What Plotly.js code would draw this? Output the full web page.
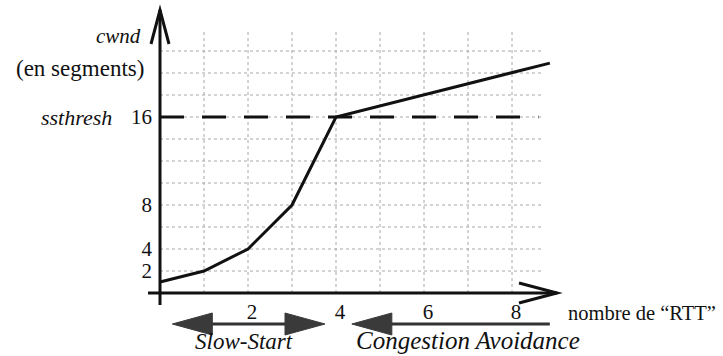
<!DOCTYPE html>
<html>
<head>
<meta charset="utf-8">
<script src="https://cdn.plot.ly/plotly-3.0.1.min.js"></script>
<style>html,body{margin:0;padding:0;background:#fff;}#chart{width:723px;height:356px;}</style>
</head>
<body>
<div id="chart"></div>
<script>
// ---- data ----
const rtt  = [0, 1, 2, 3, 4, 5, 6, 7, 8, 8.86];
const cwnd = [1, 2, 4, 8, 16, 17, 18, 19, 20, 20.9];
const ssthresh = 16;
const ssthreshEnd = 8.6;
const xTickVals = [2, 4, 6, 8];
const xTickText = ['2', '4', '6', '8'];
const yTickVals = [2, 4, 8, 16];
const yTickText = ['2', '4', '8', '16'];
const gridX = [1, 2, 3, 4, 5, 6, 7, 8];
const gridY = [2, 4, 6, 8, 10, 12, 14, 16, 18, 20, 22];
const phaseNames = ['Slow-Start', 'Congestion Avoidance'];
const phaseFrom = [0.28, 4.36];
const phaseTo = [3.75, 8.86];
const phaseHeads = [['left', 'right'], ['left']];

// ---- geometry (pixels per unit) ----
const W = 723, H = 356;
const x0px = 160, xUnit = 44;   // x=0 at 160px, 44px per RTT
const y0px = 293, yUnit = 11;   // y=0 at 293px, 11px per segment
const xRange = [-x0px / xUnit, (W - x0px) / xUnit];
const yRange = [-(H - y0px) / yUnit, y0px / yUnit];
const px2x = p => p / xUnit;    // pixel length -> x units
const px2y = p => p / yUnit;

const gridTopY = px2y(y0px - 30);
const gridRightX = px2x(543 - x0px);
const font = 'Liberation Serif';

const traces = [];
// grid
const gx = [], gy = [];
gridX.forEach(v => { gx.push(v, v, null); gy.push(0, gridTopY, null); });
gridY.forEach(v => { gx.push(0, gridRightX, null); gy.push(v, v, null); });
traces.push({x: gx, y: gy, mode: 'lines', line: {color: '#a8a8a8', width: 1, dash: 'dot'}, hoverinfo: 'skip'});
// ssthresh dashed line
traces.push({x: [0, ssthreshEnd], y: [ssthresh, ssthresh], mode: 'lines',
  line: {color: '#111', width: 3, dash: '24px,18px'}, hoverinfo: 'skip'});
// cwnd curve
traces.push({x: rtt, y: cwnd, mode: 'lines', line: {color: '#111', width: 3}, hoverinfo: 'skip'});

const shapes = [];
// axes lines
const yAxisTop = px2y(y0px - 10);
const xAxisEnd = px2x(557 - x0px);
shapes.push({type: 'line', xref: 'x', yref: 'y', x0: 0, x1: 0, y0: -px2y(12), y1: yAxisTop, line: {color: '#111', width: 3}});
shapes.push({type: 'line', xref: 'x', yref: 'y', x0: -px2x(12), x1: xAxisEnd, y0: 0, y1: 0, line: {color: '#111', width: 3}});
// open arrowheads on axes
shapes.push({type: 'path', xref: 'x', yref: 'y',
  path: `M ${-px2x(9)} ${yAxisTop - px2y(34)} L 0 ${yAxisTop} L ${px2x(9)} ${yAxisTop - px2y(34)}`,
  line: {color: '#111', width: 3}});
shapes.push({type: 'path', xref: 'x', yref: 'y',
  path: `M ${xAxisEnd - px2x(38)} ${px2y(10)} L ${xAxisEnd} 0 L ${xAxisEnd - px2x(38)} ${-px2y(10)}`,
  line: {color: '#111', width: 3}});

// phase arrows
const arrowY = -px2y(324 - y0px);
const headL = px2x(40), headH = px2y(11);
phaseNames.forEach((n, i) => {
  const a = phaseFrom[i], b = phaseTo[i];
  shapes.push({type: 'line', xref: 'x', yref: 'y', x0: a + headL * 0.5, x1: b - (phaseHeads[i].includes('right') ? headL * 0.5 : 0),
    y0: arrowY, y1: arrowY, line: {color: '#333', width: 3}});
  if (phaseHeads[i].includes('left')) {
    shapes.push({type: 'path', xref: 'x', yref: 'y',
      path: `M ${a} ${arrowY} L ${a + headL} ${arrowY + headH} L ${a + headL} ${arrowY - headH} Z`,
      fillcolor: '#3a3a3a', line: {color: '#3a3a3a', width: 1}});
  }
  if (phaseHeads[i].includes('right')) {
    shapes.push({type: 'path', xref: 'x', yref: 'y',
      path: `M ${b} ${arrowY} L ${b - headL} ${arrowY + headH} L ${b - headL} ${arrowY - headH} Z`,
      fillcolor: '#3a3a3a', line: {color: '#3a3a3a', width: 1}});
  }
});

const annotations = [
  {x: -px2x(17), y: px2y(y0px - 36), xref: 'x', yref: 'y', text: '<i>cwnd</i>', showarrow: false, xanchor: 'right',
   font: {family: font, size: 21, color: '#111'}},
  {x: -px2x(14), y: px2y(y0px - 68), xref: 'x', yref: 'y', text: '(en segments)', showarrow: false, xanchor: 'right',
   font: {family: font, size: 23, color: '#111'}},
  {x: -px2x(46), y: ssthresh, xref: 'x', yref: 'y', text: '<i>ssthresh</i>', showarrow: false, xanchor: 'right',
   font: {family: font, size: 22, color: '#111'}},
  {x: px2x(566 - x0px), y: -px2y(313 - y0px), xref: 'x', yref: 'y', text: 'nombre de “RTT”', showarrow: false, xanchor: 'left',
   font: {family: font, size: 20.5, color: '#111'}},
  {x: px2x(244 - x0px), y: -px2y(341 - y0px), xref: 'x', yref: 'y', text: '<i>' + phaseNames[0] + '</i>', showarrow: false, xanchor: 'center',
   font: {family: font, size: 23, color: '#111'}},
  {x: px2x(354 - x0px), y: -px2y(340 - y0px), xref: 'x', yref: 'y', text: '<i>' + phaseNames[1] + '</i>', showarrow: false, xanchor: 'left',
   font: {family: font, size: 25, color: '#111'}}
];

const layout = {
  width: W, height: H,
  margin: {l: 0, r: 0, t: 0, b: 0},
  paper_bgcolor: '#fff', plot_bgcolor: '#fff',
  showlegend: false,
  xaxis: {range: xRange, domain: [0, 1], anchor: 'free', position: (H - y0px) / H,
    showgrid: false, zeroline: false, showline: false, ticks: '',
    tickmode: 'array', tickvals: xTickVals, ticktext: xTickText, ticklabelshift: 4, ticklabelstandoff: 4,
    tickfont: {family: font, size: 21, color: '#111'}, fixedrange: true},
  yaxis: {range: yRange, domain: [0, 1], anchor: 'free', position: x0px / W,
    showgrid: false, zeroline: false, showline: false, ticks: '',
    tickmode: 'array', tickvals: yTickVals, ticktext: yTickText, ticklabelstandoff: 8,
    tickfont: {family: font, size: 21, color: '#111'}, fixedrange: true},
  shapes: shapes,
  annotations: annotations
};

Plotly.newPlot('chart', traces, layout, {staticPlot: true, displayModeBar: false});
</script>
</body>
</html>
